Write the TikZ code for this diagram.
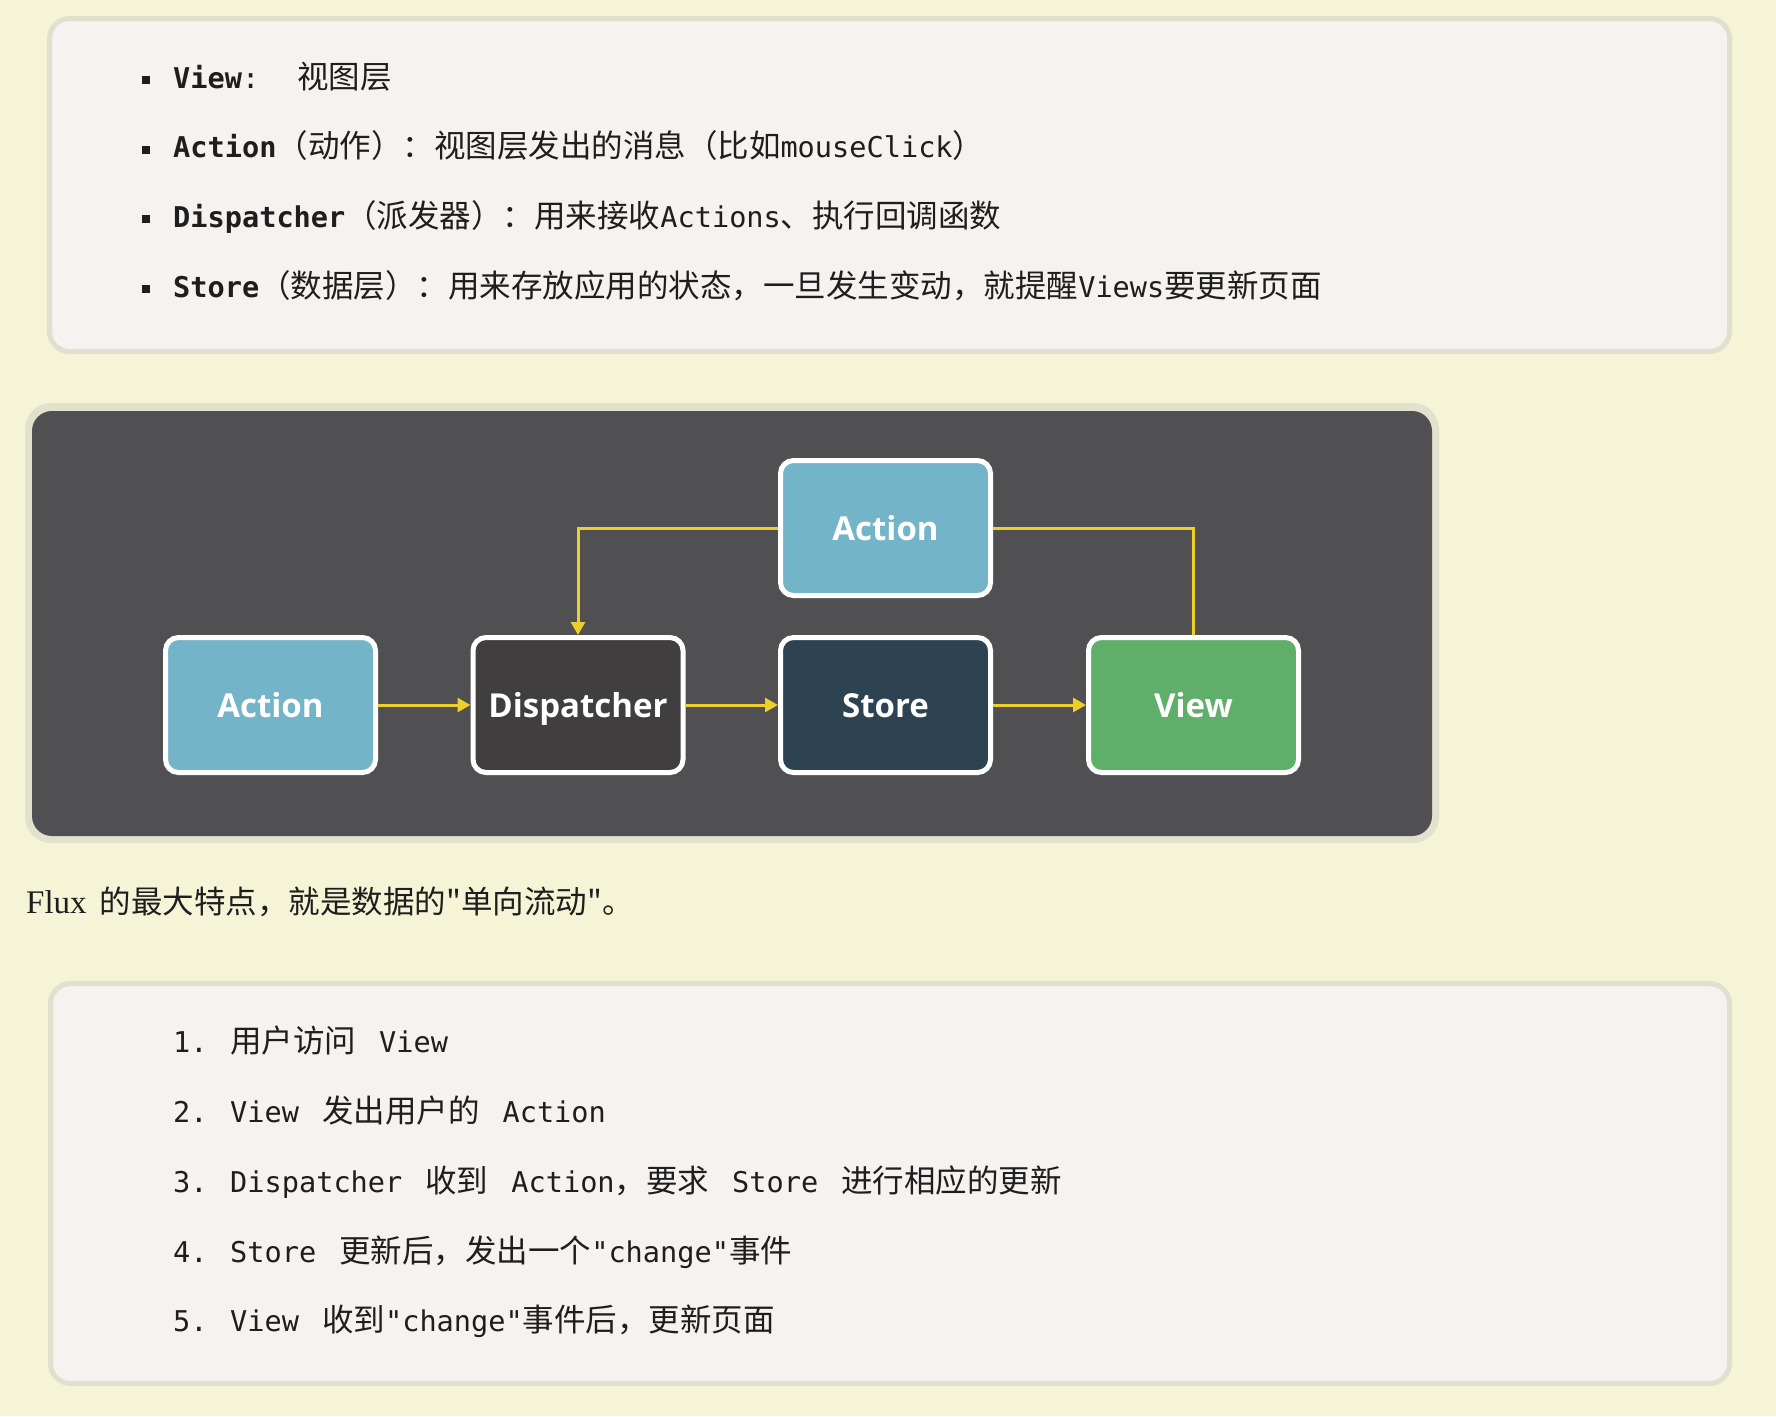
\documentclass[tikz,border=0pt]{standalone}
\usepackage{fontspec}
\usetikzlibrary{arrows.meta}
\newfontfamily\monof{DejaVu Sans Mono}
\newfontfamily\cjkf{Noto Sans CJK SC}
\newfontfamily\seriff{Liberation Serif}
\newfontfamily\nodef{Open Sans}
\definecolor{bg}{HTML}{F5F4D6}
\definecolor{boxfill}{HTML}{F5F2F0}
\definecolor{boxline}{HTML}{E1E0CE}
\definecolor{panel}{HTML}{504F51}
\definecolor{panelline}{HTML}{E2E1CD}
\definecolor{actc}{HTML}{74B4C8}
\definecolor{dispc}{HTML}{403E3F}
\definecolor{storec}{HTML}{2D4351}
\definecolor{viewc}{HTML}{5FAE6A}
\definecolor{flow}{HTML}{ECCF2A}
\definecolor{ink}{HTML}{1E1E1E}
\newcommand\zh[1]{{\cjkf\fontsize{31.5pt}{34pt}\selectfont #1}}
\newcommand\mn[1]{{\monof\fontsize{28.6pt}{34pt}\selectfont #1}}
\newcommand\gp{\hspace{23pt}}
\begin{document}
\begin{tikzpicture}[x=1pt,y=-1pt,
  card/.style={fill=boxfill, draw=boxline, line width=5pt, rounded corners=20pt},
  fnode/.style={draw=white, line width=5pt, rounded corners=13pt, minimum width=210pt,
    minimum height=135pt, text=white, text height=24pt, text depth=0pt,
    font=\nodef\bfseries\fontsize{33pt}{36pt}\selectfont},
  txt/.style={anchor=base west, inner sep=0pt, text=ink},
  flowline/.style={draw=flow, line width=3pt},
  flowarr/.style={flowline, -{Triangle[length=13pt,width=14pt]}},
  bullet/.style={fill=ink}]
% background
\fill[bg] (0,0) rectangle (1776,1416);
% top card
\draw[card] (49.5,18.5) rectangle (1729.5,351.5);
\fill[bullet] (142,76) rectangle (150,84);
\fill[bullet] (142,145.5) rectangle (150,153.5);
\fill[bullet] (142,215) rectangle (150,223);
\fill[bullet] (142,285) rectangle (150,293);
\node[txt] (l1) at (173,88) {\mn{\bfseries View}\mn{:}\hspace{38pt}\zh{视图层}};
\node[txt] (l2) at (173,157.5) {\mn{\bfseries Action}\zh{（动作）：视图层发出的消息（比如}\mn{mouseClick}\zh{）}};
\node[txt] (l3) at (173,227) {\mn{\bfseries Dispatcher}\zh{（派发器）：用来接收}\mn{Actions}\zh{、执行回调函数}};
\node[txt] (l4) at (173,297) {\mn{\bfseries Store}\zh{（数据层）：用来存放应用的状态，一旦发生变动，就提醒}\mn{Views}\zh{要更新页面}};
% diagram panel
\fill[panelline, rounded corners=26pt] (25,403) rectangle (1439,843);
\fill[panel, rounded corners=20pt] (32,411) rectangle (1432,836);
\node[fnode, fill=actc] (act1) at (270.5,705) {Action};
\node[fnode, fill=dispc] (disp) at (578,705) {Dispatcher};
\node[fnode, fill=storec] (store) at (885.5,705) {Store};
\node[fnode, fill=viewc] (view) at (1193.5,705) {View};
\node[fnode, fill=actc] (act2) at (885.5,528) {Action};
\draw[flowarr] (act1) -- (disp);
\draw[flowarr] (disp) -- (store);
\draw[flowarr] (store) -- (view);
\draw[flowarr] (act2.west) -| (disp.north);
\draw[flowline] (act2.east) -| (view.north);
% caption
\node[txt] (flux) at (26,913) {{\seriff\fontsize{33pt}{34pt}\selectfont Flux}\hspace{13pt}\zh{的最大特点，就是数据的"单向流动"。}};
% bottom card
\draw[card] (50.5,983.5) rectangle (1729.5,1383.5);
\node[txt] (n1) at (173,1052) {\mn{1.}};
\node[txt] (n2) at (173,1122) {\mn{2.}};
\node[txt] (n3) at (173,1192) {\mn{3.}};
\node[txt] (n4) at (173,1262) {\mn{4.}};
\node[txt] (n5) at (173,1331) {\mn{5.}};
\node[txt] (s1) at (230,1052) {\zh{用户访问}\gp\mn{View}};
\node[txt] (s2) at (230,1122) {\mn{View}\gp\zh{发出用户的}\gp\mn{Action}};
\node[txt] (s3) at (230,1192) {\mn{Dispatcher}\gp\zh{收到}\gp\mn{Action}\zh{，要求}\gp\mn{Store}\gp\zh{进行相应的更新}};
\node[txt] (s4) at (230,1262) {\mn{Store}\gp\zh{更新后，发出一个}\mn{"change"}\zh{事件}};
\node[txt] (s5) at (230,1331) {\mn{View}\gp\zh{收到}\mn{"change"}\zh{事件后，更新页面}};
\end{tikzpicture}
\end{document}
